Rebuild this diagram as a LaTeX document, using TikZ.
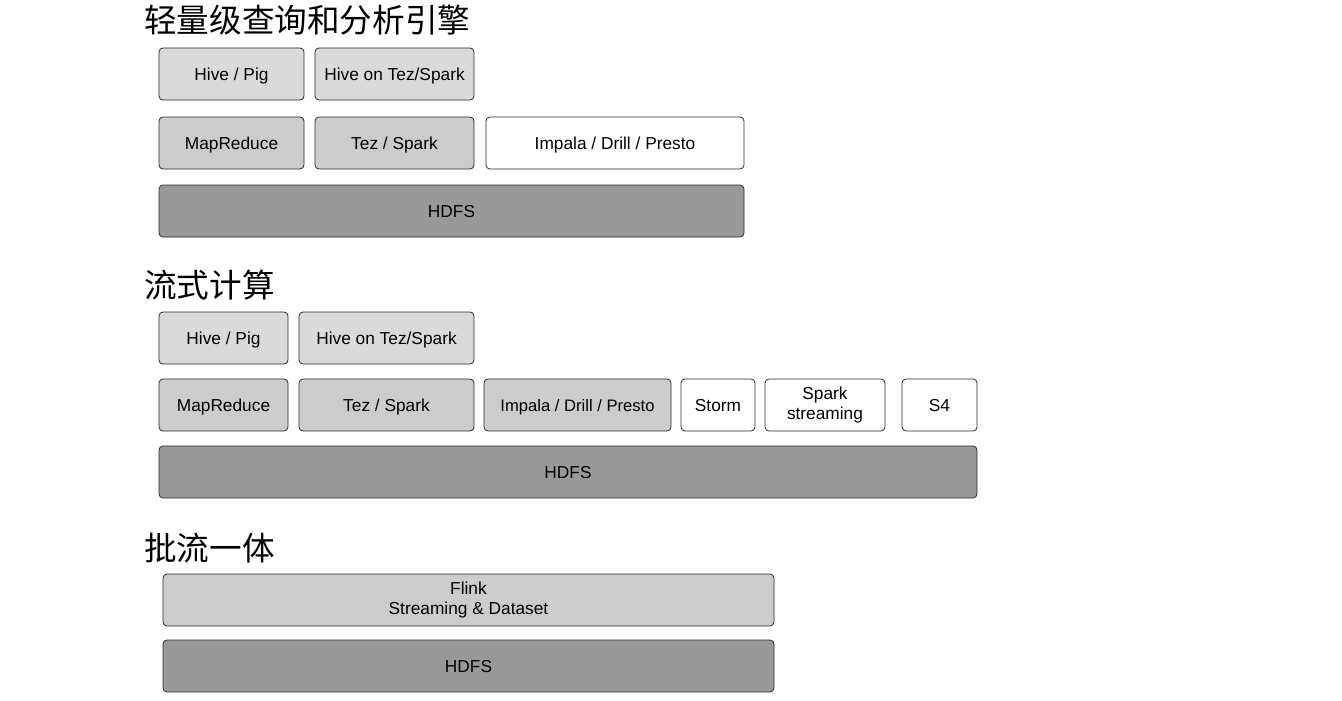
\documentclass[tikz,border=0pt]{standalone}
\usepackage{fontspec}
\setmainfont{Liberation Sans}
\newfontfamily\cjk{Noto Sans CJK SC}
\definecolor{lightA}{HTML}{DADADA}
\definecolor{lightB}{HTML}{CCCCCC}
\definecolor{darkbox}{HTML}{999999}
\definecolor{edge}{HTML}{2A2A2A}
\begin{document}
\begin{tikzpicture}[x=1pt,y=-1pt,
  layerbase/.style={draw=edge, line width=0.8pt, rounded corners=4pt, inner sep=0pt,
    minimum height=52pt, align=center, font=\fontsize{17.3}{19.5}\selectfont},
  layer/.style={layerbase, text height=12.3pt, text depth=0pt},
  topbox/.style={layer, fill=lightA},
  midbox/.style={layer, fill=lightB},
  whitebox/.style={layer, fill=white},
  hdfsbox/.style={layer, fill=darkbox},
  twoline/.style={layerbase, yshift=0pt},
  heading/.style={anchor=west, inner sep=0pt, font=\cjk\fontsize{32.6}{36}\selectfont}]
\useasboundingbox (0,0) rectangle (1342,701);
% Section 1
\node[heading] (t1) at (144,20) {轻量级查询和分析引擎};
\node[topbox, minimum width=145pt] (a1) at (231.5,74) {Hive / Pig};
\node[topbox, minimum width=159pt] (a2) at (394.5,74) {Hive on Tez/Spark};
\node[midbox, minimum width=145pt] (a3) at (231.5,143) {MapReduce};
\node[midbox, minimum width=159pt] (a4) at (394.5,143) {Tez / Spark};
\node[whitebox, minimum width=258pt] (a5) at (615,143) {Impala / Drill / Presto};
\node[hdfsbox, minimum width=585pt] (a6) at (451.5,211) {HDFS};
% Section 2
\node[heading] (t2) at (144,285) {流式计算};
\node[topbox, minimum width=129pt] (b1) at (223.5,338) {Hive / Pig};
\node[topbox, minimum width=175pt] (b2) at (386.5,338) {Hive on Tez/Spark};
\node[midbox, minimum width=129pt] (b3) at (223.5,405) {MapReduce};
\node[midbox, minimum width=175pt] (b4) at (386.5,405) {Tez / Spark};
\node[midbox, minimum width=187pt, font=\fontsize{16.6}{19.5}\selectfont] (b5) at (577.5,405) {Impala / Drill / Presto};
\node[whitebox, minimum width=74pt] (b6) at (718,405) {Storm};
\node[twoline, fill=white, minimum width=120pt] (b7) at (825,405) {Spark\\streaming};
\node[whitebox, minimum width=75pt] (b8) at (939.5,405) {S4};
\node[hdfsbox, minimum width=818pt] (b9) at (568,472) {HDFS};
% Section 3
\node[heading] (t3) at (144,548) {批流一体};
\node[twoline, fill=lightB, minimum width=611pt] (c1) at (468.5,600) {Flink\\Streaming \& Dataset};
\node[hdfsbox, minimum width=611pt] (c2) at (468.5,666) {HDFS};
\end{tikzpicture}
\end{document}
